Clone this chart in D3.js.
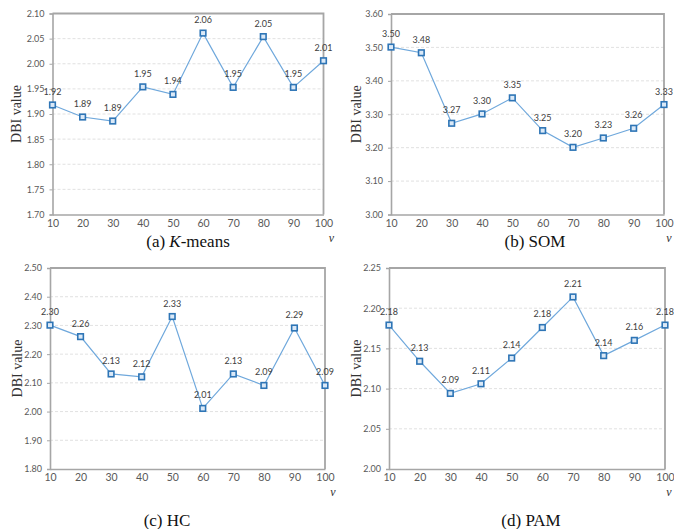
<!DOCTYPE html>
<html>
<head>
<meta charset="utf-8">
<script src="https://cdn.jsdelivr.net/npm/d3@7"></script>
<style>
  body { margin: 0; background: #fff; }
  svg { display: block; }
</style>
</head>
<body>
<svg id="chart"></svg>
<script>
// Размеры картинки.
const width = 674;
const height = 529;

// Данные: значение параметра v и DBI для каждого метода.
const vValues = [10, 20, 30, 40, 50, 60, 70, 80, 90, 100];
const kmeansDBI = [1.918, 1.894, 1.886, 1.954, 1.939, 2.061, 1.953, 2.054, 1.953, 2.006];
const somDBI = [3.501, 3.484, 3.273, 3.301, 3.349, 3.251, 3.201, 3.229, 3.258, 3.329];
const hcDBI = [2.301, 2.261, 2.131, 2.121, 2.331, 2.011, 2.131, 2.091, 2.291, 2.091];
const pamDBI = [2.179, 2.134, 2.094, 2.106, 2.138, 2.176, 2.214, 2.141, 2.16, 2.179];

// Подписи оси Y.
const kmeansTicks = [1.70, 1.75, 1.80, 1.85, 1.90, 1.95, 2.00, 2.05, 2.10];
const somTicks = [3.00, 3.10, 3.20, 3.30, 3.40, 3.50, 3.60];
const hcTicks = [1.80, 1.90, 2.00, 2.10, 2.20, 2.30, 2.40, 2.50];
const pamTicks = [2.00, 2.05, 2.10, 2.15, 2.20, 2.25];

const captions = ["(a) ", "(b) SOM", "(c) HC", "(d) PAM"];

// Положение каждой панели на картинке.
const panels = [
    { values: kmeansDBI, ticks: kmeansTicks, box: [52.5, 323.5, 13.5, 214.5], capX: 188, capY: 247, titleX: 16 },
    { values: somDBI, ticks: somTicks, box: [391, 664, 14, 214.5], capX: 535, capY: 247, titleX: 356 },
    { values: hcDBI, ticks: hcTicks, box: [50, 325, 268, 469], capX: 167, capY: 526, titleX: 17 },
    { values: pamDBI, ticks: pamTicks, box: [389, 665, 268, 469], capX: 531, capY: 526, titleX: 356 }
];

const svg = d3.select("#chart")
    .attr("width", width)
    .attr("height", height)
    .attr("viewBox", [0, 0, width, height]);

const tickFont = "Lato, 'Open Sans', sans-serif";
const serif = "'Liberation Serif', 'DejaVu Serif', serif";

panels.forEach((p, i) => {
    const [x0, x1, y0, y1] = p.box;
    const x = d3.scalePoint().domain(vValues).range([x0, x1]);
    const y = d3.scaleLinear()
        .domain([p.ticks[0], p.ticks[p.ticks.length - 1]])
        .range([y1, y0]);

    const g = svg.append("g");

    // grid lines
    g.append("g")
        .selectAll("line")
        .data(p.ticks.slice(1, -1))
        .join("line")
        .attr("x1", x0).attr("x2", x1)
        .attr("y1", d => y(d)).attr("y2", d => y(d))
        .attr("stroke", "#d9d9d9")
        .attr("stroke-dasharray", "3,2")
        .attr("stroke-width", 0.8);

    // frame: top + right
    g.append("path")
        .attr("d", `M${x0},${y0}H${x1}V${y1}`)
        .attr("fill", "none")
        .attr("stroke", "#a6a6a6")
        .attr("stroke-width", 1.8);

    // y axis
    const yAxis = g.append("g")
        .attr("transform", `translate(${x0},0)`)
        .call(d3.axisLeft(y).tickValues(p.ticks).tickFormat(d3.format(".2f")).tickSizeOuter(0).tickSize(3).tickPadding(5));
    yAxis.select(".domain").attr("stroke", "#a6a6a6").attr("stroke-width", 1.6);
    yAxis.selectAll(".tick line").attr("stroke", "#a6a6a6");
    yAxis.selectAll("text")
        .style("font-family", tickFont)
        .style("font-size", "9px")
        .attr("fill", "#595959");

    // x axis
    const xAxis = g.append("g")
        .attr("transform", `translate(0,${y1})`)
        .call(d3.axisBottom(x).tickSize(0).tickPadding(5));
    xAxis.select(".domain").attr("stroke", "#a6a6a6").attr("stroke-width", 1.6);
    xAxis.selectAll("text")
        .style("font-family", tickFont)
        .style("font-size", "10.5px")
        .attr("fill", "#595959");

    // v label
    g.append("text")
        .attr("x", Math.min(x1 + 8, width - 5))
        .attr("y", y1 + 27)
        .attr("text-anchor", "middle")
        .style("font-family", serif)
        .style("font-style", "italic")
        .style("font-size", "12px")
        .attr("fill", "#333")
        .text("v");

    // axis title
    g.append("text")
        .attr("transform", `translate(${p.titleX},${(y0 + y1) / 2}) rotate(-90)`)
        .attr("text-anchor", "middle")
        .attr("dy", "0.35em")
        .style("font-family", serif)
        .style("font-size", "14px")
        .attr("fill", "#333")
        .text("DBI value");

    // line
    const line = d3.line()
        .x((d, j) => x(vValues[j]))
        .y(d => y(d));

    g.append("path")
        .datum(p.values)
        .attr("fill", "none")
        .attr("stroke", "#6fa8dc")
        .attr("stroke-width", 1.2)
        .attr("d", line);

    // markers
    g.append("g")
        .selectAll("rect")
        .data(p.values)
        .join("rect")
        .attr("x", (d, j) => x(vValues[j]) - 2.8)
        .attr("y", d => y(d) - 2.8)
        .attr("width", 5.6)
        .attr("height", 5.6)
        .attr("fill", "#dbe9f7")
        .attr("stroke", "#2e75b6")
        .attr("stroke-width", 1.6);

    // data labels
    g.append("g")
        .selectAll("text")
        .data(p.values)
        .join("text")
        .attr("x", (d, j) => x(vValues[j]))
        .attr("y", d => y(d) - 10)
        .attr("text-anchor", "middle")
        .style("font-family", tickFont)
        .style("font-size", "9px")
        .attr("fill", "#404040")
        .text(d => d3.format(".2f")(d));

    // caption
    const cap = svg.append("text")
        .attr("x", p.capX)
        .attr("y", p.capY)
        .attr("text-anchor", "middle")
        .style("font-family", serif)
        .style("font-size", "17px")
        .attr("fill", "#111")
        .text(captions[i]);
    if (i === 0) {
        cap.append("tspan").style("font-style", "italic").text("K");
        cap.append("tspan").text("-means");
    }
});
</script>
</body>
</html>
